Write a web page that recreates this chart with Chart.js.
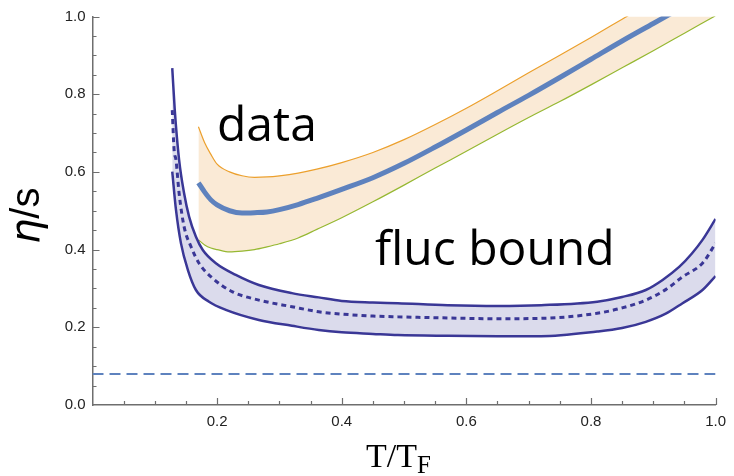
<!DOCTYPE html>
<html>
<head>
<meta charset="utf-8">
<script src="https://cdn.jsdelivr.net/npm/chart.js@4.4.1/dist/chart.umd.min.js"></script>
<style>
    html, body { margin: 0; padding: 0; background: #fff; }
</style>
</head>
<body>
<canvas id="etaChart" width="734" height="476"></canvas>
<script>
// fluctuation bound: upper edge, central (dotted) and lower edge
const flucUpperX = [0.128, 0.132, 0.139, 0.147, 0.155, 0.166, 0.177, 0.198, 0.230, 0.267, 0.320, 0.363, 0.40, 0.45, 0.49, 0.57, 0.65, 0.72, 0.81, 0.85, 0.888, 0.915, 0.942, 0.962, 0.979, 1.0];
const flucUpperY = [0.867, 0.760, 0.631, 0.545, 0.485, 0.433, 0.399, 0.365, 0.335, 0.309, 0.288, 0.277, 0.268, 0.264, 0.262, 0.257, 0.255, 0.257, 0.266, 0.278, 0.296, 0.322, 0.356, 0.390, 0.425, 0.479];

const flucMidX = [0.128, 0.131, 0.134, 0.139, 0.147, 0.158, 0.171, 0.193, 0.224, 0.267, 0.320, 0.363, 0.40, 0.45, 0.49, 0.57, 0.65, 0.72, 0.81, 0.85, 0.888, 0.92, 0.947, 0.979, 1.0];
const flucMidY = [0.759, 0.656, 0.631, 0.545, 0.459, 0.408, 0.365, 0.326, 0.292, 0.270, 0.253, 0.240, 0.234, 0.229, 0.227, 0.224, 0.222, 0.223, 0.236, 0.250, 0.270, 0.297, 0.330, 0.365, 0.416];

const flucLowerX = [0.128, 0.134, 0.142, 0.153, 0.166, 0.187, 0.214, 0.267, 0.320, 0.363, 0.40, 0.45, 0.49, 0.57, 0.65, 0.72, 0.81, 0.85, 0.888, 0.92, 0.947, 0.979, 1.0];
const flucLowerY = [0.601, 0.502, 0.416, 0.348, 0.296, 0.266, 0.245, 0.219, 0.204, 0.193, 0.187, 0.183, 0.180, 0.178, 0.177, 0.177, 0.189, 0.198, 0.214, 0.235, 0.262, 0.296, 0.332];

// measured data band (upper, central, lower)
const dataX = [0.17, 0.18, 0.19, 0.20, 0.22, 0.24, 0.26, 0.28, 0.30, 0.33, 0.36, 0.40, 0.45, 0.50, 0.55, 0.60, 0.65, 0.70, 0.75, 0.80, 0.85, 0.90, 0.95, 1.0];
const dataUpper = [0.716, 0.675, 0.645, 0.620, 0.600, 0.590, 0.586, 0.587, 0.590, 0.597, 0.607, 0.624, 0.650, 0.683, 0.722, 0.764, 0.809, 0.855, 0.900, 0.946, 0.993, 1.040, 1.085, 1.130];
const dataMid = [0.572, 0.548, 0.528, 0.515, 0.500, 0.494, 0.495, 0.497, 0.503, 0.516, 0.532, 0.555, 0.585, 0.622, 0.664, 0.708, 0.753, 0.797, 0.843, 0.890, 0.937, 0.982, 1.027, 1.072];
const dataLower = [0.425, 0.412, 0.404, 0.400, 0.394, 0.396, 0.400, 0.407, 0.415, 0.430, 0.452, 0.482, 0.523, 0.566, 0.610, 0.653, 0.697, 0.740, 0.781, 0.824, 0.868, 0.912, 0.957, 1.002];

// KSS bound 1/(4 pi)
const kssX = [0, 1];
const kssY = [0.0796, 0.0796];

const xTickValues = [0.2, 0.4, 0.6, 0.8, 1.0];
const yTickValues = [0.0, 0.2, 0.4, 0.6, 0.8, 1.0];

const axisColor = '#6e6e6e';
const flucColor = 'rgb(58, 55, 150)';

const toPoints = (xs, ys) => xs.map((x, i) => ({ x: x, y: ys[i] }));

// inward ticks, axis titles and the two labels
const decorations = {
    id: 'decorations',
    afterDraw(chart) {
        const { ctx, scales: { x, y } } = chart;
        const x0 = x.getPixelForValue(0);
        const y0 = y.getPixelForValue(0);
        ctx.save();
        ctx.strokeStyle = axisColor;
        ctx.lineWidth = 1.2;
        for (let i = 1; i <= 20; i++) {
            const v = i / 20;
            const len = i % 4 === 0 ? 7 : 4;
            const px = Math.round(x.getPixelForValue(v)) + 0.5;
            const py = Math.round(y.getPixelForValue(v)) + 0.5;
            ctx.beginPath();
            ctx.moveTo(px, y0);
            ctx.lineTo(px, y0 - len);
            ctx.moveTo(x0, py);
            ctx.lineTo(x0 + len, py);
            ctx.stroke();
        }

        ctx.fillStyle = '#000';
        ctx.textBaseline = 'alphabetic';
        ctx.font = '48px "Open Sans"';
        ctx.fillText('data', 217, 141);
        ctx.fillText('fluc bound', 375, 265);

        // T/T_F
        ctx.font = '34px "Liberation Serif"';
        ctx.fillText('T/T', 366, 467);
        const w = ctx.measureText('T/T').width;
        ctx.font = '25px "Liberation Serif"';
        ctx.fillText('F', 366 + w, 473);

        // eta/s
        ctx.translate(39, 244);
        ctx.rotate(-Math.PI / 2);
        ctx.font = 'italic 40px "DejaVu Sans"';
        ctx.fillText('η', 0, 0);
        const we = ctx.measureText('η').width;
        ctx.font = '40px "Liberation Sans"';
        ctx.fillText('/s', we, 0);
        ctx.restore();
    }
};

const etaChart = new Chart(document.getElementById('etaChart').getContext('2d'), {
    type: 'scatter',
    data: {
        datasets: [
            {
                data: toPoints(flucUpperX, flucUpperY),
                borderColor: flucColor,
                borderWidth: 2.5,
                backgroundColor: 'rgb(219, 219, 236)',
                fill: { target: 2 }
            },
            {
                data: toPoints(flucMidX, flucMidY),
                borderColor: flucColor,
                borderWidth: 3,
                borderDash: [5, 4],
                fill: false
            },
            {
                data: toPoints(flucLowerX, flucLowerY),
                borderColor: flucColor,
                borderWidth: 2.5,
                fill: false
            },
            {
                data: toPoints(dataX, dataUpper),
                borderColor: 'rgb(236, 160, 45)',
                borderWidth: 1.2,
                backgroundColor: 'rgb(250, 234, 214)',
                fill: { target: 5 }
            },
            {
                data: toPoints(dataX, dataMid),
                borderColor: 'rgb(94, 130, 190)',
                borderWidth: 5,
                fill: false
            },
            {
                data: toPoints(dataX, dataLower),
                borderColor: 'rgb(150, 184, 50)',
                borderWidth: 1.2,
                fill: false
            },
            {
                data: toPoints(kssX, kssY),
                borderColor: 'rgb(94, 130, 190)',
                borderWidth: 2,
                borderDash: [11, 6],
                fill: false
            }
        ]
    },
    options: {
        responsive: false,
        animation: false,
        layout: { padding: { top: 16.5, right: 14, left: 0, bottom: 0 } },
        plugins: {
            legend: { display: false },
            tooltip: { enabled: false },
            filler: { drawTime: 'beforeDatasetsDraw' }
        },
        elements: {
            point: { radius: 0 },
            line: { cubicInterpolationMode: 'monotone' }
        },
        datasets: { scatter: { showLine: true, clip: 0 } },
        scales: {
            x: {
                type: 'linear',
                min: 0,
                max: 1,
                afterBuildTicks: axis => { axis.ticks = xTickValues.map(v => ({ value: v })); },
                afterFit: axis => { axis.height = 71; },
                grid: { drawOnChartArea: false, drawTicks: false },
                border: { color: axisColor, width: 1.5 },
                ticks: {
                    padding: 8,
                    maxRotation: 0,
                    color: '#222',
                    font: { family: 'Liberation Sans', size: 15 },
                    callback: v => v.toFixed(1)
                }
            },
            y: {
                type: 'linear',
                min: 0,
                max: 1,
                afterBuildTicks: axis => { axis.ticks = yTickValues.map(v => ({ value: v })); },
                afterFit: axis => { axis.width = 92.5; },
                grid: { drawOnChartArea: false, drawTicks: false },
                border: { color: axisColor, width: 1.5 },
                ticks: {
                    padding: 7,
                    color: '#222',
                    font: { family: 'Liberation Sans', size: 15 },
                    callback: v => v.toFixed(1)
                }
            }
        }
    },
    plugins: [decorations]
});
</script>
</body>
</html>
